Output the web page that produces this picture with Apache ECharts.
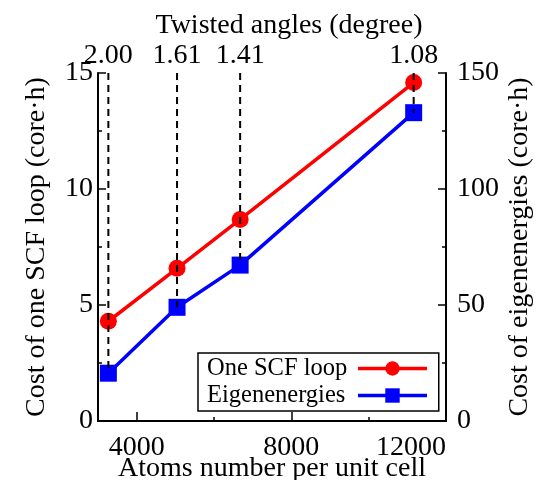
<!DOCTYPE html>
<html>
<head>
<meta charset="utf-8">
<script src="https://cdn.jsdelivr.net/npm/echarts@6/dist/echarts.min.js"></script>
<style>
  html, body { margin: 0; padding: 0; background: #fff; }
  #main { width: 545px; height: 480px; }
</style>
</head>
<body>
<div id="main"></div>
<script>
// atoms per unit cell and the twisted angle for each
const atoms = [3268, 5044, 6676, 11164];
const angles = ['2.00', '1.61', '1.41', '1.08'];
// cost of one SCF loop (left axis, core·h)
const scfCost = [4.3, 6.58, 8.69, 14.59];
// cost of eigenenergies (right axis, core·h)
const eigCost = [20.6, 49, 67.2, 132.9];

const xMajor = [4000, 8000, 12000];
const xMinor = [6000, 10000];

const font = 'Liberation Serif';
const fs = 28;

var myChart = echarts.init(document.getElementById('main'));

// vertical dashed guides from the top down to the blue point (on the left scale)
const guideSeries = atoms.map((a, i) => ({
    type: 'line',
    xAxisIndex: 0,
    yAxisIndex: 0,
    data: [[a, 15], [a, eigCost[i] / 10]],
    symbol: 'none',
    silent: true,
    z: 5,
    lineStyle: { color: '#000', width: 2, type: [7, 5] },
}));

var option = {
    animation: false,
    textStyle: { fontFamily: font },
    grid: { left: 98, right: 99, top: 73, bottom: 59, outerBoundsMode: 'none' },
    legend: {
        orient: 'vertical',
        left: 198,
        top: 353,
        align: 'right',
        padding: [3, 10, 3, 9],
        itemGap: 2,
        itemWidth: 69,
        itemHeight: 18,
        borderColor: '#000',
        borderWidth: 1.5,
        borderRadius: 0,
        lineStyle: { width: 3.5 },
        formatter: (name) => '{t|' + name + '}',
        textStyle: {
            fontFamily: font, fontSize: 24.5, color: '#000',
            rich: { t: { fontFamily: font, fontSize: 24.5, color: '#000', width: 146, align: 'left' } },
        },
        data: ['One SCF loop', 'Eigenenergies'],
    },
    xAxis: [
        {
            type: 'value', position: 'bottom', min: 3000, max: 12000,
            name: 'Atoms number per unit cell', nameLocation: 'middle', nameGap: 34, nameMoveOverlap: false,
            nameTextStyle: { fontFamily: font, fontSize: fs, color: '#000' },
            axisLine: { lineStyle: { color: '#000', width: 2 } },
            axisTick: { inside: true, length: 9, lineStyle: { width: 1.5 }, customValues: xMajor },
            axisLabel: {
                customValues: xMajor, fontFamily: font, fontSize: fs, color: '#000', margin: 13,
                alignMaxLabel: 'right', formatter: (v) => String(v),
            },
            splitLine: { show: false },
        },
        {
            type: 'value', position: 'top', min: 3000, max: 12000,
            name: 'Twisted angles (degree)', nameLocation: 'middle', nameGap: 33, nameMoveOverlap: false,
            nameTextStyle: { fontFamily: font, fontSize: fs, color: '#000', padding: [0, 0, 0, 34] },
            axisLine: { lineStyle: { color: '#000', width: 2 } },
            axisTick: { show: false },
            axisLabel: {
                customValues: atoms, fontFamily: font, fontSize: fs, color: '#000', margin: 3,
                formatter: (v) => angles[atoms.indexOf(v)] || '',
            },
            splitLine: { show: false },
        },
        {
            type: 'value', position: 'bottom', min: 3000, max: 12000,
            axisLine: { show: false },
            axisTick: { inside: true, length: 4, lineStyle: { color: '#000', width: 1.5 }, customValues: xMinor },
            axisLabel: { show: false },
            splitLine: { show: false },
        },
    ],
    yAxis: [
        {
            type: 'value', position: 'left', min: 0, max: 15, interval: 5,
            name: 'Cost of one SCF loop (core·h)', nameLocation: 'middle', nameGap: 47, nameRotate: 90,
            nameMoveOverlap: false,
            nameTextStyle: { fontFamily: font, fontSize: fs, color: '#000' },
            axisLine: { show: true, lineStyle: { color: '#000', width: 2 } },
            axisTick: { show: true, inside: true, length: 8, lineStyle: { width: 1.5 } },
            minorTick: { show: true, splitNumber: 2, length: 4, lineStyle: { color: '#000', width: 1.5 } },
            axisLabel: { fontFamily: font, fontSize: fs, color: '#000', margin: 5 },
            splitLine: { show: false },
        },
        {
            type: 'value', position: 'right', min: 0, max: 150, interval: 50,
            name: 'Cost of eigenenergies (core·h)', nameLocation: 'middle', nameGap: 60, nameRotate: 90,
            nameMoveOverlap: false,
            nameTextStyle: { fontFamily: font, fontSize: fs, color: '#000' },
            axisLine: { show: true, lineStyle: { color: '#000', width: 2 } },
            axisTick: { show: true, inside: true, length: 8, lineStyle: { width: 1.5 } },
            minorTick: { show: true, splitNumber: 2, length: 4, lineStyle: { color: '#000', width: 1.5 } },
            axisLabel: { fontFamily: font, fontSize: fs, color: '#000', margin: 11 },
            splitLine: { show: false },
        },
    ],
    series: [
        {
            name: 'One SCF loop', type: 'line', xAxisIndex: 0, yAxisIndex: 0,
            data: atoms.map((a, i) => [a, scfCost[i]]),
            symbol: 'circle', symbolSize: 17,
            lineStyle: { color: '#ff0000', width: 3.5 },
            itemStyle: { color: '#ff0000' },
            z: 3,
        },
        {
            name: 'Eigenenergies', type: 'line', xAxisIndex: 0, yAxisIndex: 1,
            data: atoms.map((a, i) => [a, eigCost[i]]),
            symbol: 'rect', symbolSize: 17,
            lineStyle: { color: '#0000ff', width: 3.5 },
            itemStyle: { color: '#0000ff' },
            z: 3,
        },
    ].concat(guideSeries),
};
myChart.setOption(option);
</script>
</body>
</html>
